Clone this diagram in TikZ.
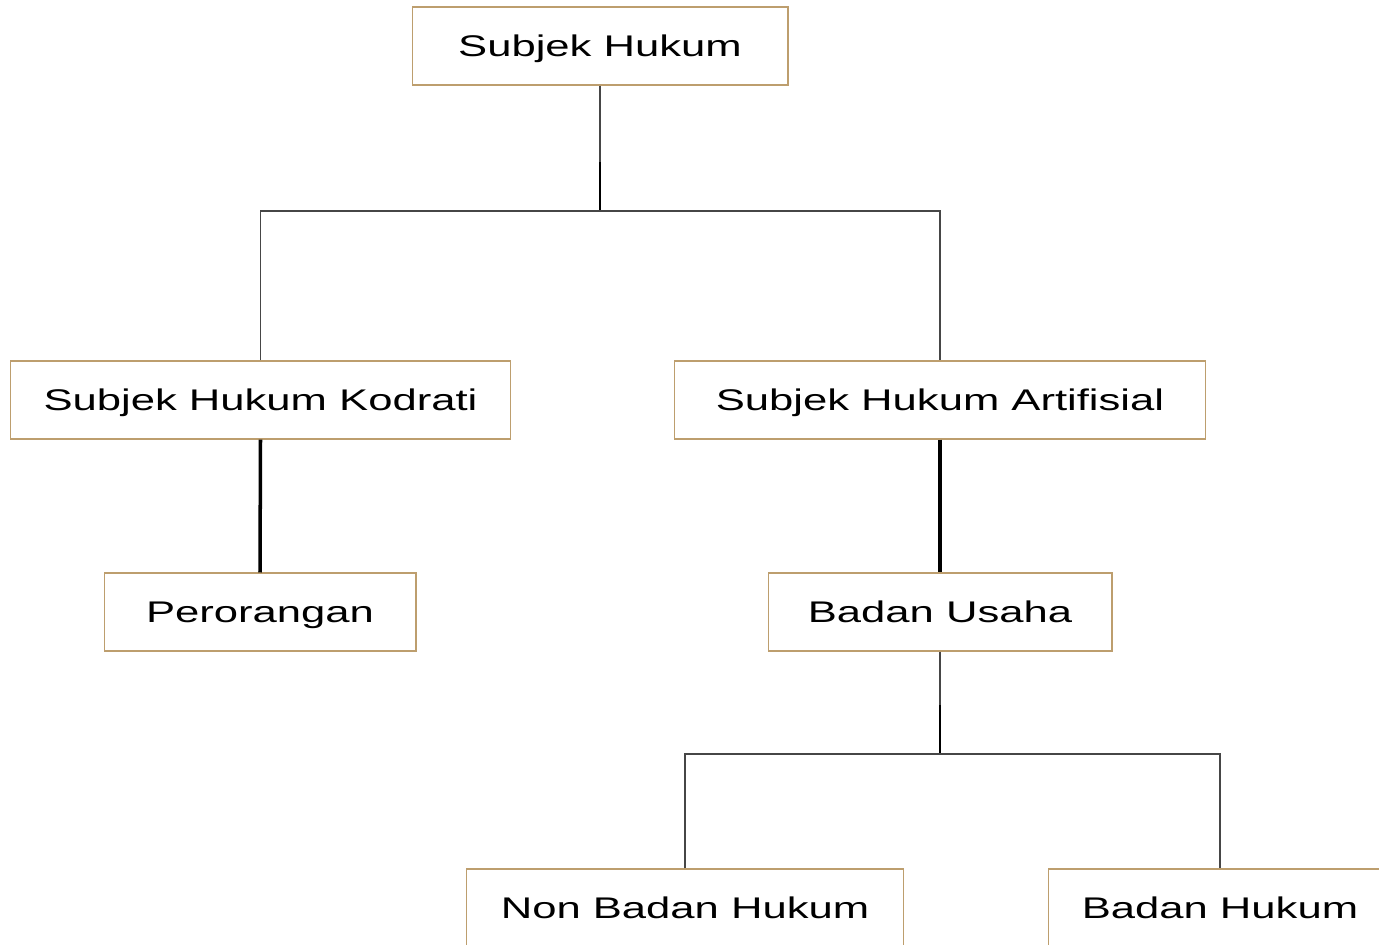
\documentclass[tikz,border=0pt]{standalone}
\usepackage{fontspec}
\setmainfont{Liberation Sans}[FakeStretch=1.46]
\usepackage{tikz}
\usetikzlibrary{positioning,calc}

\definecolor{shtan}{RGB}{189,158,110}
\definecolor{shgrey}{RGB}{70,70,70}

\begin{document}
\begin{tikzpicture}[x=0.02cm,y=-0.02cm,
    shbox/.style={draw=shtan,fill=white,line width=0.6pt,align=center,
        font=\fontsize{17}{20}\selectfont,minimum height=1.56cm,inner sep=0pt,
        text height=12.2pt,text depth=0pt},
    shline/.style={draw=shgrey,line width=0.6pt},
    shthick/.style={draw=black,line width=2pt},
    shmid/.style={draw=black,line width=1.2pt}
]
\useasboundingbox (0,0) rectangle (1379,944);
\clip (0,0) rectangle (1379,944);
% boxes
\node[shbox,minimum width=7.52cm] (root) at (600,46) {Subjek Hukum};
\node[shbox,minimum width=10.02cm] (kodrati) at (260.5,400) {Subjek Hukum Kodrati};
\node[shbox,minimum width=10.64cm] (artif) at (940,400) {Subjek Hukum Artifisial};
\node[shbox,minimum width=6.24cm] (orang) at (260,612) {Perorangan};
\node[shbox,minimum width=6.88cm] (usaha) at (940,612) {Badan Usaha};
\node[shbox,minimum width=8.76cm] (nonbh) at (685,908) {Non Badan Hukum};
\node[shbox,minimum width=6.88cm] (bh) at (1220,908) {Badan Hukum};
% joints
\coordinate (m1) at (600,162);
\coordinate (j1) at (600,211);
\coordinate (m2) at (940,705);
\coordinate (j2) at (940,754);
% connectors
\draw[shline] (root.south)--(m1);
\draw[shmid] (m1)--(j1);
\draw[shline] (kodrati.north)|-(j1)-|(artif.north);
\draw[shthick] (kodrati.south)--(orang.north);
\draw[shthick] (artif.south)--(usaha.north);
\draw[shline] (usaha.south)--(m2);
\draw[shmid] (m2)--(j2);
\draw[shline] (nonbh.north)|-(j2)-|(bh.north);
\end{tikzpicture}
\end{document}
